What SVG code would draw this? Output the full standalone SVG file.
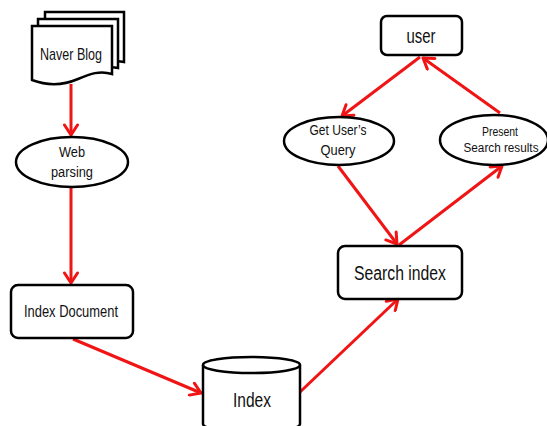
<svg xmlns="http://www.w3.org/2000/svg" width="547" height="426" viewBox="0 0 547 426">
  <defs>
    <style>
      .shape { fill: #ffffff; stroke: #000000; stroke-width: 2.5; }
      .edge { fill: none; stroke: #f01414; stroke-width: 3; }
      .lbl { font-family: "Liberation Sans", Arial, sans-serif; fill: #111111; text-anchor: middle; }
    </style>
    <marker id="arrow" markerUnits="userSpaceOnUse" markerWidth="16" markerHeight="16" viewBox="0 0 16 16" refX="13" refY="8" orient="auto">
      <path d="M3,1.5 L13,8 L3,14.5" fill="none" stroke="#f01414" stroke-width="3" stroke-linecap="round" stroke-linejoin="round"/>
    </marker>
  </defs>
  <rect width="547" height="426" fill="#ffffff"/>

  <!-- connectors -->
  <g id="connectors" class="edge" marker-end="url(#arrow)">
    <line x1="71" y1="84" x2="71" y2="135"/>
    <line x1="71" y1="187" x2="71" y2="283"/>
    <line x1="73" y1="339" x2="201" y2="393"/>
    <line x1="300" y1="392" x2="398" y2="299"/>
    <line x1="420" y1="57" x2="342" y2="116"/>
    <line x1="500" y1="113" x2="423" y2="58"/>
    <line x1="338" y1="166" x2="397" y2="244"/>
    <line x1="399" y1="245" x2="502" y2="166"/>
  </g>

  <!-- stacked documents -->
  <g id="naver-blog">
    <path class="shape" d="M45,12 H124 V62 C118,61 116,61 112,63 L45,63 Z"/>
    <path class="shape" d="M38,19 H118 V68 C112,67 110,67 106,69 L38,69 Z"/>
    <path class="shape" d="M32,26 H112 V74 C100,70 90,74 78,79 C64,85 48,86 32,80 Z"/>
    <text class="lbl" x="71" y="60" font-size="17" textLength="62" lengthAdjust="spacingAndGlyphs">Naver Blog</text>
  </g>

  <g id="web-parsing">
    <ellipse class="shape" cx="72" cy="162" rx="56" ry="25"/>
    <text class="lbl" x="72" y="157" font-size="15.5" textLength="26" lengthAdjust="spacingAndGlyphs">Web</text>
    <text class="lbl" x="72" y="177" font-size="15.5" textLength="42" lengthAdjust="spacingAndGlyphs">parsing</text>
  </g>

  <g id="index-document">
    <rect class="shape" x="11" y="285" width="122" height="53" rx="7"/>
    <text class="lbl" x="71" y="317" font-size="16" textLength="94" lengthAdjust="spacingAndGlyphs">Index Document</text>
  </g>

  <g id="index">
    <path class="shape" d="M203,365 V424 A48.5,8 0 0 0 300,424 V365"/>
    <ellipse class="shape" cx="251.5" cy="365" rx="48.5" ry="8"/>
    <text class="lbl" x="252" y="407" font-size="20" textLength="38" lengthAdjust="spacingAndGlyphs">Index</text>
  </g>

  <g id="search-index">
    <rect class="shape" x="338" y="246" width="124" height="53" rx="7"/>
    <text class="lbl" x="400" y="280" font-size="20" textLength="92" lengthAdjust="spacingAndGlyphs">Search index</text>
  </g>

  <g id="user">
    <rect class="shape" x="381" y="16" width="81" height="39" rx="6"/>
    <text class="lbl" x="421" y="43" font-size="20" textLength="29" lengthAdjust="spacingAndGlyphs">user</text>
  </g>

  <g id="get-query">
    <ellipse class="shape" cx="339" cy="141" rx="55" ry="24"/>
    <text class="lbl" x="338" y="135" font-size="15" textLength="57" lengthAdjust="spacingAndGlyphs">Get User’s</text>
    <text class="lbl" x="338" y="155" font-size="15" textLength="35" lengthAdjust="spacingAndGlyphs">Query</text>
  </g>

  <g id="present-results">
    <ellipse class="shape" cx="494" cy="140" rx="54" ry="25"/>
    <text class="lbl" x="500" y="136" font-size="12.5" textLength="36" lengthAdjust="spacingAndGlyphs">Present</text>
    <text class="lbl" x="501" y="152" font-size="12" textLength="75" lengthAdjust="spacingAndGlyphs">Search results</text>
  </g>
</svg>
